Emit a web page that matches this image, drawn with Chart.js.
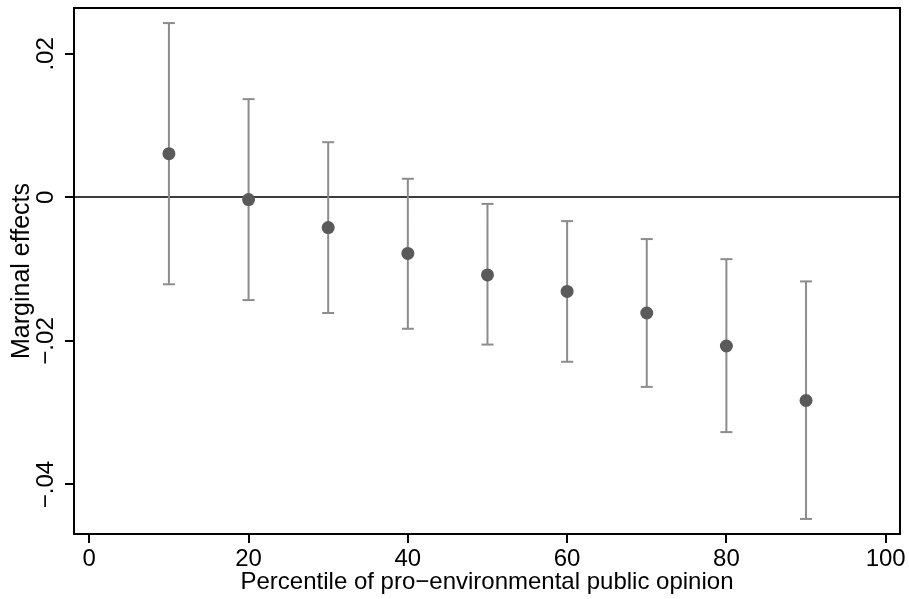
<!DOCTYPE html>
<html>
<head>
<meta charset="utf-8">
<script src="https://cdn.jsdelivr.net/npm/chart.js@4.4.1/dist/chart.umd.min.js"></script>
<style>
  html, body { margin: 0; padding: 0; background: #fff; }
</style>
</head>
<body>
<canvas id="marginsChart" width="909" height="599"></canvas>
<script>
  // Marginal effects by percentile of pro-environmental opinion (with 95% CI)
  const percentiles = [10, 20, 30, 40, 50, 60, 70, 80, 90];
  const effects  = [0.0061, -0.0003, -0.0042, -0.0078, -0.0108, -0.0131, -0.0161, -0.0207, -0.0283];
  const ciUpper  = [0.0243, 0.0137, 0.0077, 0.0026, -0.0009, -0.0033, -0.0058, -0.0086, -0.0117];
  const ciLower  = [-0.0121, -0.0143, -0.0161, -0.0183, -0.0205, -0.0229, -0.0264, -0.0327, -0.0448];
  const xTicks = [0, 20, 40, 60, 80, 100];
  const yTicks = [-0.04, -0.02, 0, 0.02];

  const FONT = "'Liberation Sans', Arial, Helvetica, sans-serif";
  Chart.defaults.font.family = FONT;
  Chart.defaults.color = '#000';

  function fmtEffect(v) {
    if (Math.abs(v) < 1e-12) return '0';
    const s = Math.abs(v).toFixed(2).replace(/^0/, '');
    return (v < 0 ? '\u2212' : '') + s;
  }

  // rotated y tick labels (Stata style) + frame round the plot region
  const stataPlugin = {
    id: 'stataLook',
    afterDraw(chart) {
      const { ctx, chartArea, scales } = chart;
      const y = scales.y;
      ctx.save();
      ctx.fillStyle = '#000';
      ctx.font = '24px ' + FONT;
      ctx.textAlign = 'center';
      ctx.textBaseline = 'alphabetic';
      y.ticks.forEach(t => {
        const py = y.getPixelForValue(t.value);
        ctx.save();
        ctx.translate(53, py);
        ctx.rotate(-Math.PI / 2);
        ctx.fillText(fmtEffect(t.value), 0, 0);
        ctx.restore();
      });
      ctx.strokeStyle = '#000';
      ctx.lineWidth = 2;
      ctx.strokeRect(chartArea.left, chartArea.top, chartArea.right - chartArea.left, chartArea.bottom - chartArea.top);
      ctx.restore();
    }
  };

  const ctx = document.getElementById('marginsChart').getContext('2d');
  new Chart(ctx, {
    type: 'scatter',
    data: {
      datasets: [
        {
          label: 'Marginal effect',
          data: percentiles.map((p, i) => ({ x: p, y: effects[i] })),
          pointRadius: 6.5,
          pointBackgroundColor: '#5a5a5a',
          pointBorderWidth: 0,
          order: 0
        },
        {
          label: 'CI caps',
          data: percentiles.flatMap((p, i) => [{ x: p, y: ciLower[i] }, { x: p, y: ciUpper[i] }]),
          pointStyle: 'line',
          pointRadius: 6,
          pointBorderColor: '#8c8c8c',
          pointBorderWidth: 2,
          order: 1
        },
        {
          label: 'CI',
          data: percentiles.flatMap((p, i) => [{ x: p, y: ciLower[i] }, { x: p, y: ciUpper[i] }, { x: p, y: null }]),
          showLine: true,
          spanGaps: false,
          pointRadius: 0,
          borderColor: '#8c8c8c',
          borderWidth: 2,
          order: 2
        }
      ]
    },
    options: {
      responsive: false,
      animation: false,
      layout: { padding: { top: 7, right: 9, left: 0, bottom: 0 } },
      plugins: { legend: { display: false }, tooltip: { enabled: false } },
      scales: {
        x: {
          type: 'linear',
          min: -1.92,
          max: 101.8,
          afterBuildTicks: s => { s.ticks = xTicks.map(v => ({ value: v })); },
          afterFit: s => { s.height = 65; },
          ticks: { font: { size: 24 }, color: '#000', padding: 2, maxRotation: 0, autoSkip: false },
          grid: { drawOnChartArea: false, color: '#000', lineWidth: 2, tickLength: 9 },
          border: { display: false },
          title: { display: true, text: 'Percentile of pro\u2212environmental public opinion', font: { size: 24 }, color: '#000', padding: { top: 0, bottom: 2 } }
        },
        y: {
          type: 'linear',
          min: -0.0469,
          max: 0.0264,
          afterBuildTicks: s => { s.ticks = yTicks.map(v => ({ value: v })); },
          afterFit: s => { s.width = 74; },
          ticks: { display: false },
          grid: {
            drawOnChartArea: true,
            color: c => (c.tick && Math.abs(c.tick.value) < 1e-12) ? '#3c3c3c' : 'rgba(0,0,0,0)',
            tickColor: '#000',
            lineWidth: 2,
            tickLength: 9
          },
          border: { display: false },
          title: { display: true, text: 'Marginal effects', font: { size: 25 }, color: '#000', padding: { top: 7, bottom: 0 } }
        }
      }
    },
    plugins: [stataPlugin]
  });
</script>
</body>
</html>
